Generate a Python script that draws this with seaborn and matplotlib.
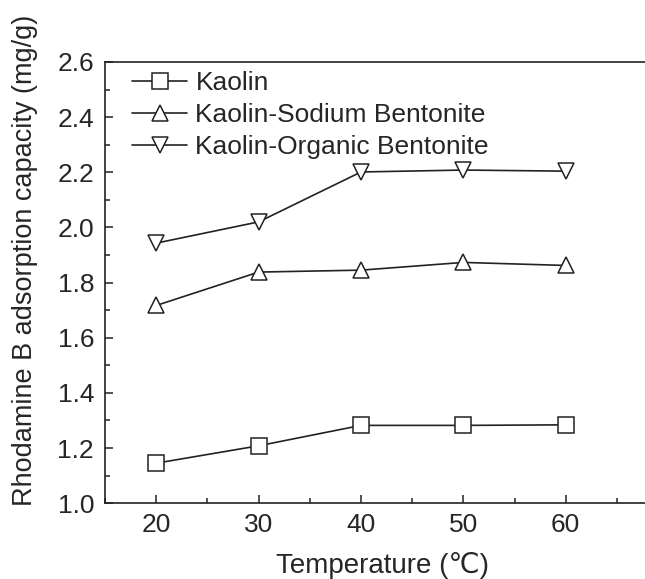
import numpy as np
import pandas as pd
import matplotlib
matplotlib.use("Agg")
import matplotlib.pyplot as plt
import seaborn as sns
from matplotlib.ticker import MultipleLocator

temperature = [20, 30, 40, 50, 60]
kaolin = [1.145, 1.208, 1.282, 1.282, 1.284]
sodium = [1.717, 1.838, 1.845, 1.873, 1.862]
organic = [1.943, 2.020, 2.201, 2.208, 2.204]
names = ["Kaolin", "Kaolin-Sodium Bentonite", "Kaolin-Organic Bentonite"]

df = pd.DataFrame({
    "T": temperature * 3,
    "q": kaolin + sodium + organic,
    "sample": [n for n in names for _ in temperature],
})

sns.set_style("ticks")
plt.rcParams["font.family"] = ["Liberation Sans", "DejaVu Sans"]

fig = plt.figure(figsize=(6.45, 5.79), dpi=100)
ax = fig.add_axes([0.163, 0.131, 0.86, 0.762])

sns.lineplot(data=df, x="T", y="q", hue="sample", style="sample",
             palette=["#222222"] * 3, markers=["s", "^", "v"], dashes=False,
             markersize=11, markerfacecolor="white", markeredgecolor="#222222",
             markeredgewidth=1.1, linewidth=1.2, ax=ax)

# x range chosen so the axes run off the right edge as in the source
ax.set_xlim(15, 69.2)
ax.set_ylim(1.0, 2.6)
ax.xaxis.set_major_locator(MultipleLocator(10))
ax.xaxis.set_minor_locator(MultipleLocator(5))
ax.yaxis.set_major_locator(MultipleLocator(0.2))
ax.yaxis.set_minor_locator(MultipleLocator(0.1))
ax.set_xticks([20, 30, 40, 50, 60])
ax.yaxis.set_major_formatter(matplotlib.ticker.FormatStrFormatter("%.1f"))
ax.tick_params(which="both", direction="in", labelsize=19, width=1.1, color="#222222")
ax.tick_params(which="major", length=6)
ax.tick_params(which="minor", length=3.5)
ax.tick_params(axis="x", pad=7)
ax.tick_params(axis="y", pad=8)
for s in ax.spines.values():
    s.set_linewidth(1.2)
    s.set_color("#222222")

ax.set_xlabel("Temperature (\u2103)", fontsize=20, labelpad=11)
ax.set_ylabel("Rhodamine B adsorption capacity (mg/g)", fontsize=19.5)
ax.yaxis.set_label_coords(-0.121, 0.551)

handles, labels = ax.get_legend_handles_labels()
ax.legend(handles, labels, loc="upper left", frameon=False, fontsize=19,
          handlelength=2.1, borderaxespad=0.2, labelspacing=0.3,
          handletextpad=0.3, bbox_to_anchor=(0.02, 1.015))

fig.savefig("out.png", dpi=100)
